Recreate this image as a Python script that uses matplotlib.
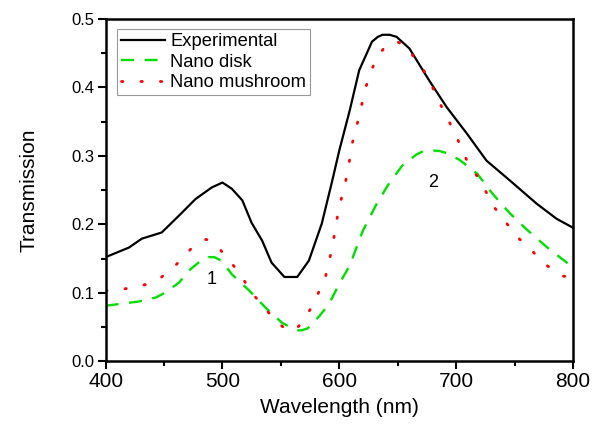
import matplotlib
matplotlib.use("Agg")
import matplotlib.pyplot as plt
from matplotlib.ticker import MultipleLocator

plt.rcParams['font.family'] = ['Liberation Sans', 'DejaVu Sans']

# Experimental spectrum
exp_wl = [400, 420, 431, 448, 463, 477, 491, 500, 508, 517, 525, 534, 542, 553, 564,
          574, 585, 594, 600, 609, 617, 628, 633, 637, 643, 649, 660, 677, 692, 709,
          726, 746, 769, 786, 800]
exp_t = [0.152, 0.166, 0.179, 0.188, 0.213, 0.237, 0.254, 0.261, 0.252, 0.235, 0.202,
         0.176, 0.144, 0.123, 0.123, 0.147, 0.201, 0.264, 0.308, 0.367, 0.425, 0.467,
         0.474, 0.477, 0.477, 0.474, 0.457, 0.410, 0.371, 0.333, 0.293, 0.264, 0.230,
         0.208, 0.195]

# Nano disk simulation
disk_wl = [400, 428, 443, 451, 463, 471, 483, 488, 493, 499, 508, 523, 537, 551, 563,
           568, 573, 583, 591, 600, 609, 620, 632, 643, 654, 666, 672, 679, 686, 692,
           703, 718, 731, 746, 760, 778, 800]
disk_t = [0.081, 0.087, 0.093, 0.100, 0.115, 0.132, 0.149, 0.152, 0.152, 0.147, 0.127,
          0.103, 0.078, 0.056, 0.045, 0.045, 0.048, 0.066, 0.083, 0.113, 0.140, 0.190,
          0.230, 0.261, 0.286, 0.302, 0.307, 0.308, 0.307, 0.304, 0.294, 0.274, 0.245,
          0.216, 0.193, 0.166, 0.137]

# Nano mushroom simulation
mush_wl = [400, 411, 424, 437, 448, 461, 473, 480, 486, 491, 497, 508, 517, 525, 536,
           546, 554, 558, 563, 569, 577, 583, 588, 594, 598, 603, 607, 611, 614, 617,
           620, 623, 627, 633, 638, 643, 649, 656, 666, 675, 686, 699, 710, 719, 733,
           742, 752, 765, 776, 789, 800]
mush_t = [0.103, 0.104, 0.108, 0.113, 0.123, 0.142, 0.164, 0.174, 0.178, 0.175, 0.165,
          0.143, 0.122, 0.100, 0.078, 0.058, 0.047, 0.044, 0.047, 0.058, 0.081, 0.103,
          0.122, 0.166, 0.208, 0.247, 0.274, 0.318, 0.337, 0.359, 0.381, 0.402, 0.424,
          0.445, 0.457, 0.465, 0.467, 0.462, 0.440, 0.418, 0.377, 0.333, 0.290, 0.268,
          0.224, 0.204, 0.182, 0.161, 0.142, 0.125, 0.122]

fig = plt.figure(figsize=(6, 4.33), dpi=100)
ax = fig.add_axes([0.176, 0.166, 0.779, 0.790])

ax.plot(exp_wl, exp_t, color='black', lw=1.6, label='Experimental')
ax.plot(disk_wl, disk_t, color='#00e000', lw=1.7, dashes=(5.5, 4.5), label='Nano disk')
ax.plot(mush_wl, mush_t, color='red', lw=2, linestyle=(0, (0.5, 6.5)),
        dash_capstyle='round', label='Nano mushroom')

ax.text(491, 0.12, '1', fontsize=13, ha='center', va='center')
ax.text(680, 0.261, '2', fontsize=13, ha='center', va='center')

ax.set_xlim(400, 800)
ax.set_ylim(0, 0.5)
ax.xaxis.set_major_locator(MultipleLocator(100))
ax.xaxis.set_minor_locator(MultipleLocator(50))
ax.yaxis.set_major_locator(MultipleLocator(0.1))
ax.yaxis.set_minor_locator(MultipleLocator(0.05))
ax.tick_params(which='major', direction='out', length=6, width=1.5)
ax.tick_params(which='minor', direction='out', length=3.5, width=1.5)
ax.tick_params(axis='x', which='major', labelsize=15, pad=2)
ax.tick_params(axis='y', which='major', labelsize=12, pad=2)
for s in ax.spines.values():
    s.set_linewidth(1.8)

ax.set_xlabel('Wavelength (nm)', fontsize=15, labelpad=5)
ax.set_ylabel('Transmission', fontsize=15, labelpad=24)

leg = ax.legend(loc='upper left', bbox_to_anchor=(0.025, 0.97), fontsize=13.2,
                fancybox=False, framealpha=1, edgecolor='#999999',
                borderpad=0.2, labelspacing=0.2, handlelength=2.4, handletextpad=0.3,
                borderaxespad=0)
leg.get_frame().set_linewidth(0.8)

fig.savefig('out.png', dpi=100)
